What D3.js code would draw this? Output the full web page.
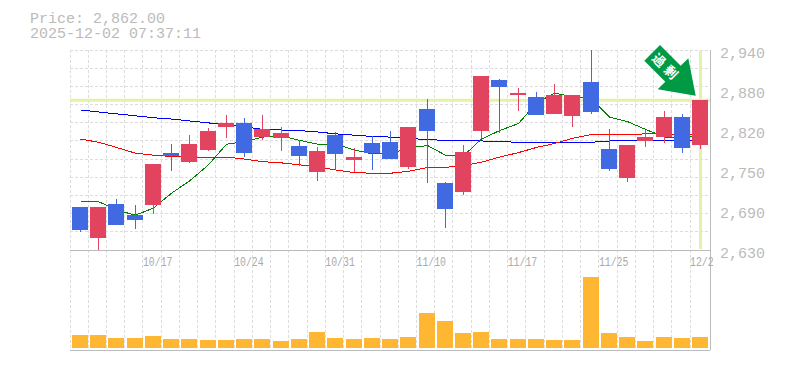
<!DOCTYPE html>
<html>
<head>
<meta charset="utf-8">
<script src="https://cdn.jsdelivr.net/npm/d3@7"></script>
<style>
  html, body { margin: 0; padding: 0; background: #fff; }
  svg { display: block; }
  text { font-family: "Liberation Mono", monospace; fill: #bbb; }
</style>
</head>
<body>
<svg id="chart" width="785" height="370"></svg>
<script>
const dates = ["10/10","10/14","10/15","10/16","10/17","10/20","10/21","10/22","10/23","10/24","10/27","10/28","10/29","10/30","10/31","11/4","11/5","11/6","11/7","11/10","11/11","11/12","11/13","11/14","11/17","11/18","11/19","11/20","11/21","11/25","11/26","11/27","11/28","12/1","12/2"];
const opens = [2697,2649,2701,2684,2700,2780,2766,2785,2821,2827,2805,2804,2791,2751,2808,2770,2796,2797,2759,2849,2734,2720,2814,2894,2870,2867,2841,2838,2890,2787,2742,2799,2805,2836,2793];
const highs = [2697,2697,2709,2700,2763,2794,2808,2819,2839,2835,2839,2821,2800,2790,2813,2788,2807,2814,2821,2864,2735,2793,2900,2895,2881,2875,2887,2870,2940,2818,2793,2816,2845,2841,2862];
const lows = [2658,2630,2669,2663,2686,2752,2765,2783,2804,2774,2800,2783,2760,2737,2754,2751,2754,2771,2756,2734,2664,2715,2804,2811,2845,2839,2841,2821,2841,2752,2735,2790,2796,2780,2787];
const closes = [2661,2697,2669,2677,2763,2776,2794,2814,2827,2780,2818,2811,2776,2783,2779,2774,2780,2771,2821,2814,2694,2782,2900,2883,2873,2839,2870,2870,2844,2756,2793,2805,2836,2788,2862];
const volume = [130,130,100,100,120,90,90,80,80,90,90,70,90,160,100,90,100,90,110,350,270,150,160,90,90,90,80,80,710,150,110,70,110,100,110];
const maShort = [2705,2705,2692,2684,2695,2718,2737,2762,2794,2798,2805,2807,2800,2794,2794,2785,2779,2779,2788,2792,2777,2776,2802,2815,2826,2858,2873,2868,2864,2836,2829,2817,2805,2804,2807];
const maMid = [2802,2797,2789,2780,2777,2775,2774,2774,2774,2771,2767,2765,2762,2759,2754,2750,2749,2749,2752,2758,2758,2761,2766,2774,2781,2789,2795,2803,2809,2809,2809,2810,2810,2809,2808];
const maLong = [2847,2844,2841,2838,2835,2833,2830,2827,2824,2821,2817,2816,2815,2813,2810,2808,2806,2805,2803,2801,2800,2799,2799,2798,2797,2797,2797,2797,2797,2799,2799,2799,2800,2800,2800];
const priceTicks = [2630,2692,2754,2816,2878,2940];
const dateTicks = ["10/17","10/24","10/31","11/10","11/17","11/25","12/2"];
const lastPrice = 2862;

const plotLeft = 70, plotRight = 710, plotTop = 50, plotMid = 250, plotBottom = 350, volBase = 348;
const red = "#e2435f", blue = "#4169e1";

const svg = d3.select("#chart");

// the bands stop just short of the frame on the right
const x = d3.scaleBand().domain(dates).range([plotLeft, 708.3]);
const y = d3.scaleLinear().domain([2630, 2940]).range([plotMid, plotTop]);
const yVol = d3.scaleLinear().domain([0, 980]).range([volBase, plotMid]);

const bodyX = d => Math.round(x(d) + 2);
const midX = d => bodyX(d) + 8.5;

// grid
const grid = svg.append("g").attr("stroke", "#ddd").attr("stroke-dasharray", "3,2");
dates.forEach(d => {
  const gx = Math.floor(x(d)) + 0.5;
  grid.append("line").attr("x1", gx).attr("x2", gx).attr("y1", plotTop).attr("y2", plotBottom);
});
d3.range(11).forEach(i => {
  const gy = Math.floor(plotTop + i * (plotMid - plotTop) / 11) + 0.5;
  grid.append("line").attr("x1", plotLeft).attr("x2", plotRight).attr("y1", gy).attr("y2", gy);
});

// current price guides
svg.append("line").attr("x1", plotLeft).attr("x2", plotRight).attr("y1", y(lastPrice)).attr("y2", y(lastPrice))
  .attr("stroke", "#e2f2a6").attr("stroke-width", 3);
svg.append("line").attr("x1", midX("12/2")).attr("x2", midX("12/2")).attr("y1", plotTop + 1).attr("y2", plotMid - 1)
  .attr("stroke", "#e2f2a6").attr("stroke-width", 3);

// moving averages
const line = d3.line().x((v, i) => midX(dates[i])).y(v => y(v));
[[maLong, "#0000ff"], [maMid, "#ff0000"], [maShort, "#008000"]].forEach(([s, c]) => {
  svg.append("path").attr("d", line(s)).attr("fill", "none").attr("stroke", c)
    .attr("stroke-width", 1).attr("shape-rendering", "crispEdges");
});

// candles
const candles = svg.append("g").attr("shape-rendering", "crispEdges");
dates.forEach((d, i) => {
  const c = closes[i] >= opens[i] ? red : blue;
  candles.append("line").attr("x1", midX(d)).attr("x2", midX(d))
    .attr("y1", y(highs[i])).attr("y2", y(lows[i])).attr("stroke", c);
  candles.append("rect").attr("x", bodyX(d)).attr("width", 16)
    .attr("y", y(Math.max(opens[i], closes[i])))
    .attr("height", Math.abs(y(opens[i]) - y(closes[i])))
    .attr("fill", c);
});

// volume
svg.append("g").attr("shape-rendering", "crispEdges").selectAll("rect")
  .data(volume).enter().append("rect")
  .attr("x", (v, i) => bodyX(dates[i])).attr("width", 16)
  .attr("y", v => yVol(v)).attr("height", v => volBase - yVol(v))
  .attr("fill", "#ffb733");

// frame
const frame = svg.append("g").attr("stroke", "#bbb").attr("shape-rendering", "crispEdges");
frame.append("line").attr("x1", plotLeft).attr("x2", plotRight).attr("y1", plotMid + 0.5).attr("y2", plotMid + 0.5);
frame.append("line").attr("x1", plotLeft).attr("x2", plotRight).attr("y1", plotBottom + 0.5).attr("y2", plotBottom + 0.5);
frame.append("line").attr("x1", plotRight + 0.5).attr("x2", plotRight + 0.5).attr("y1", plotTop).attr("y2", plotBottom);

// axis labels
const yAxis = d3.axisRight(y).tickValues(priceTicks).tickSize(0)
  .tickFormat(v => d3.format(",")(Math.round(v / 10) * 10));
const yg = svg.append("g").attr("transform", `translate(${plotRight + 1},0)`).call(yAxis);
yg.select(".domain").remove();
yg.selectAll("text").attr("x", 9).attr("dy", "0.47em").style("font-size", "15px")
  .style("font-family", "'Liberation Mono', monospace").attr("fill", "#bbb");

const xg = svg.append("g");
dateTicks.forEach(d => {
  xg.append("text").attr("x", x(d)).attr("y", 266).attr("font-size", 13)
    .attr("textLength", d.length * 5.9).attr("lengthAdjust", "spacingAndGlyphs")
    .style("fill", "#aaa").text(d);
});

// header
svg.append("text").attr("x", 30).attr("y", 23).attr("font-size", 15).text("Price: 2,862.00");
svg.append("text").attr("x", 30).attr("y", 38).attr("font-size", 15).text("2025-12-02 07:37:11");

// arrow badge
svg.append("path")
  .attr("d", "M660,45L680.7,65.7L688.3,58.3L695.7,95.7L657.7,89.3L665.3,81.7L644.3,60.7Z")
  .attr("fill", "#009944");
svg.append("text").attr("transform", "translate(663,71) rotate(45)").attr("text-anchor", "middle")
  .attr("font-size", 13).attr("font-weight", "bold").attr("letter-spacing", 4)
  .style("font-family", "'Noto Sans CJK JP'").style("fill", "#fff").text("過剰");
</script>
</body>
</html>
